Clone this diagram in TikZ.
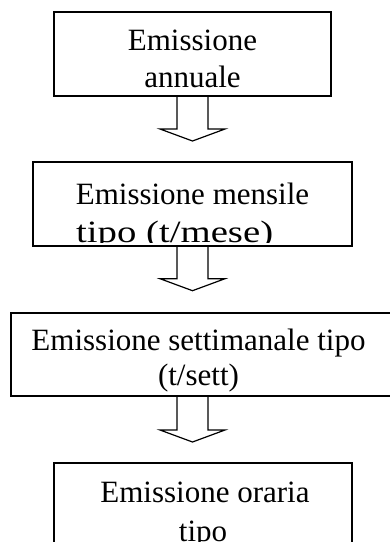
\documentclass[tikz,border=0pt]{standalone}
\usepackage{fontspec}
\setmainfont{Liberation Serif}
\usepackage{graphicx}
\usetikzlibrary{calc}
\begin{document}
\begin{tikzpicture}[x=1pt,y=-1pt,
  box/.style={draw, line width=2pt, inner sep=0pt},
  lbl/.style={anchor=base, inner sep=0pt, font=\fontsize{31}{37}\selectfont},
  blockarrow/.style={draw, line width=1.2pt, line join=miter}]
\useasboundingbox (0,0) rectangle (390,542);
\clip (0,0) rectangle (390,542);
% boxes
\node[box, minimum width=277pt, minimum height=84pt] (b1) at (192.5,54) {};
\node[box, minimum width=319.6pt, minimum height=83.7pt] (b2) at (192.5,203.85) {};
\node[box, minimum width=399pt, minimum height=83pt] (b3) at (210.5,354.5) {};
\node[box, minimum width=298pt, minimum height=84pt] (b4) at (203.3,504.7) {};
% texts
\node[lbl] (t1a) at (192.5,50) {Emissione};
\node[lbl] (t1b) at (192.5,87) {annuale};
\node[lbl] (t2a) at (192.5,204) {Emissione mensile};
\begin{scope}
  \clip (b2.north west) rectangle ($(b2.south east)+(0,-4.5)$);
  \node[lbl, anchor=base west] (t2b) at (76,242) {\scalebox{1.25}[1]{tipo (t/mese)}};
\end{scope}
\node[lbl] (t3a) at (198.5,350) {Emissione settimanale tipo};
\node[lbl] (t3b) at (198.5,385) {(t/sett)};
\node[lbl] (t4a) at (205,502) {Emissione oraria};
\node[lbl] (t4b) at (203,541) {tipo};
% block arrows
\draw[blockarrow] ($(b1.south)+(-15.5,0)$) -- ++(0,32) -- ++(-17,0) -- ++(32.5,12) -- ++(32.5,-12) -- ++(-17,0) -- ++(0,-32);
\draw[blockarrow] ($(b2.south)+(-15.5,0)$) -- ++(0,32) -- ++(-17,0) -- ++(32.5,12) -- ++(32.5,-12) -- ++(-17,0) -- ++(0,-32);
\draw[blockarrow] ($(b3.south -| b1.south)+(-15.5,0)$) -- ++(0,33) -- ++(-17,0) -- ++(32.5,12) -- ++(32.5,-12) -- ++(-17,0) -- ++(0,-33);
\end{tikzpicture}
\end{document}
